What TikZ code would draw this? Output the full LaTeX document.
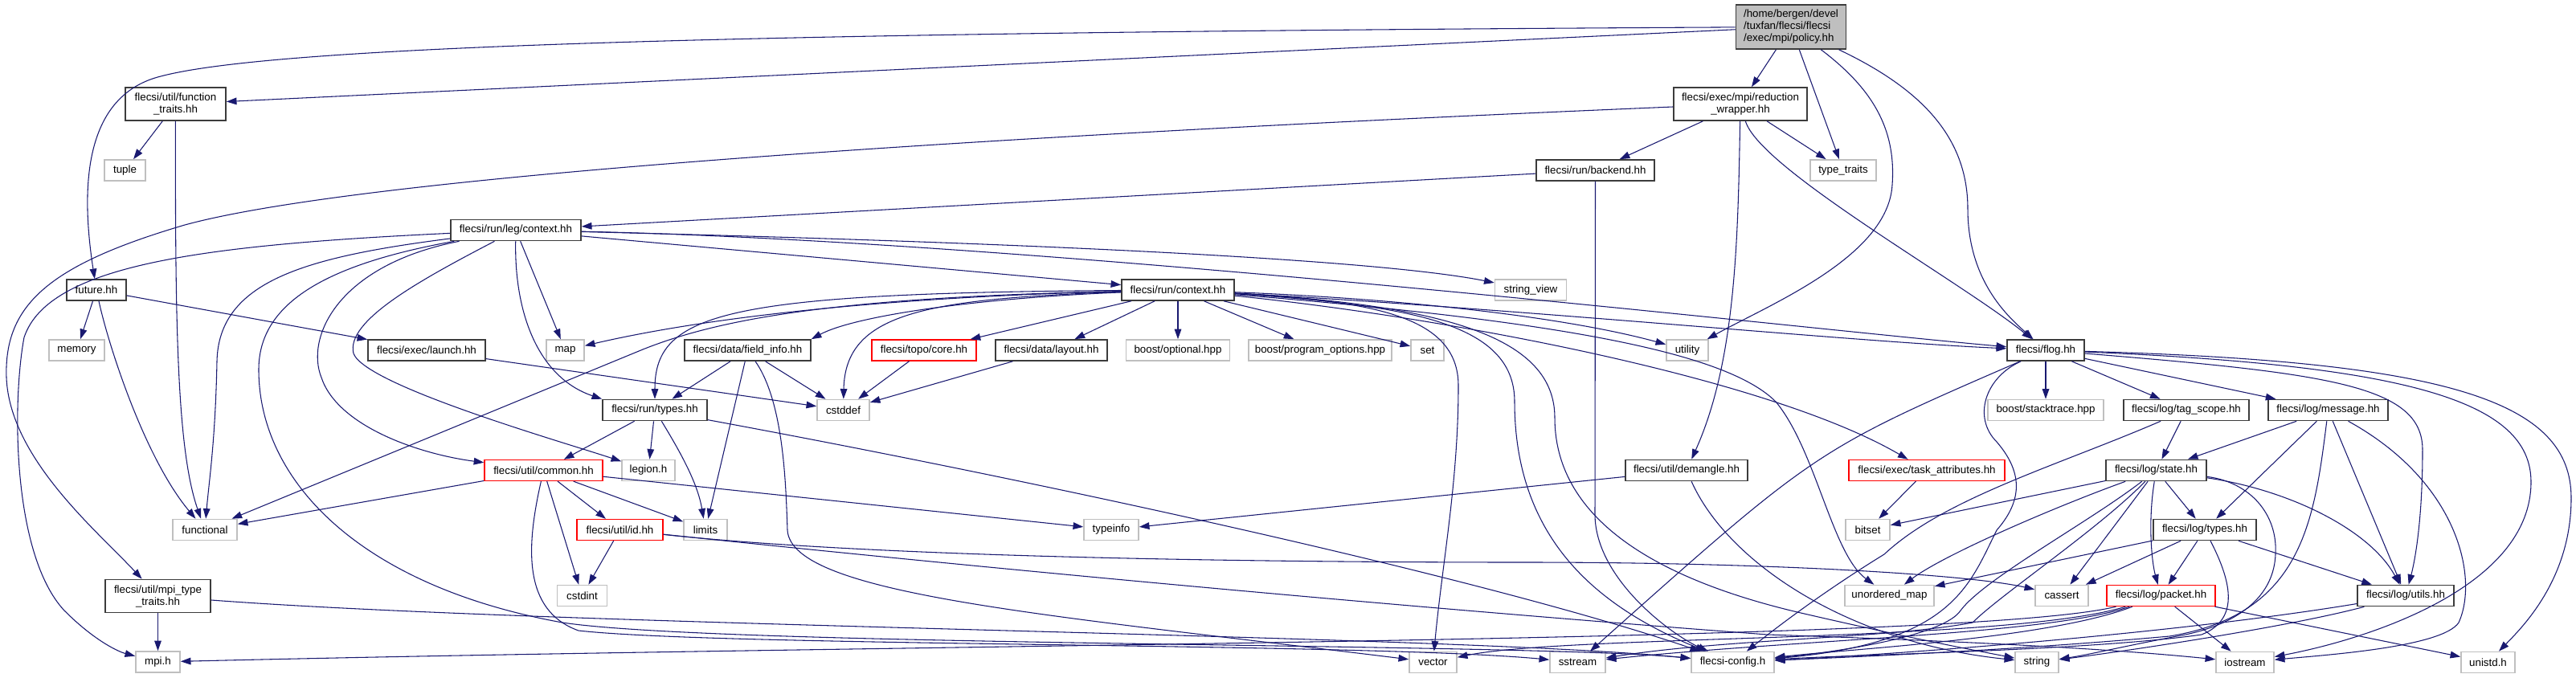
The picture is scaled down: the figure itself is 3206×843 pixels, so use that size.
\documentclass[tikz,border=0pt]{standalone}
\usepackage{fontspec}
\setmainfont{Liberation Sans}
\usetikzlibrary{arrows.meta}
\definecolor{edgec}{HTML}{191970}
\definecolor{extb}{HTML}{BFBFBF}
\definecolor{docb}{HTML}{3C3C3C}
\definecolor{polfill}{HTML}{BFBFBF}
\begin{document}
\begin{tikzpicture}[x=0.75pt,y=-0.75pt,
  nd/.style={inner sep=0pt, minimum height=19.5pt, font=\fontsize{10pt}{11.25pt}\selectfont, text=black, fill=white},
  wd/.style={minimum width=#1*0.75pt},
  ht/.style={minimum height=#1*0.75pt},
  doc/.style={nd, draw=docb, line width=1.2pt},
  ext/.style={nd, draw=extb, line width=1.2pt},
  trunc/.style={nd, draw=red, line width=1pt},
  ed/.style={draw=edgec, line width=0.8pt, -{Triangle[length=9.5pt,width=6.5pt]}}
]
\useasboundingbox (0,0) rectangle (3206,843);
% ---------------- nodes ----------------
\node[doc, wd=137, ht=55, fill=polfill, align=left] (P) at (2229,33.5) {/home/bergen/devel\\/tuxfan/flecsi/flecsi\\/exec/mpi/policy.hh};
\node[doc, wd=125, ht=41, align=center] (FT) at (218.5,129.5) {flecsi/util/function\\\_traits.hh};
\node[doc, wd=166, ht=41, align=center] (RW) at (2166,129.5) {flecsi/exec/mpi/reduction\\\_wrapper.hh};
\node[ext, wd=51] (tuple) at (155.5,212) {tuple};
\node[doc, wd=147] (BE) at (1985.5,212) {flecsi/run/backend.hh};
\node[ext, wd=82] (TT) at (2294,212) {type\_traits};
\node[doc, wd=162] (LC) at (642,286.5) {flecsi/run/leg/context.hh};
\node[doc, wd=74] (FU) at (120,361) {future.hh};
\node[doc, wd=140] (RC) at (1466,361) {flecsi/run/context.hh};
\node[ext, wd=89] (SV) at (1905,361) {string\_view};
\node[ext, wd=69] (memory) at (95.5,436) {memory};
\node[doc, wd=146] (launch) at (531,436) {flecsi/exec/launch.hh};
\node[ext, wd=47] (map) at (703.5,436) {map};
\node[doc, wd=157] (finfo) at (930.5,436) {flecsi/data/field\_info.hh};
\node[trunc, wd=130] (topo) at (1150,436) {flecsi/topo/core.hh};
\node[doc, wd=139] (layout) at (1308.5,436) {flecsi/data/layout.hh};
\node[ext, wd=129] (opt) at (1466,436) {boost/optional.hpp};
\node[ext, wd=178] (popt) at (1643,436) {boost/program\_options.hpp};
\node[ext, wd=41] (set) at (1776.5,436) {set};
\node[ext, wd=52] (utility) at (2100,436) {utility};
\node[doc, wd=96] (flog) at (2546,436) {flecsi/flog.hh};
\node[doc, wd=130] (rtypes) at (815,510.5) {flecsi/run/types.hh};
\node[ext, wd=65] (cstddef) at (1049.5,510.5) {cstddef};
\node[ext, wd=144] (stack) at (2546,510.5) {boost/stacktrace.hpp};
\node[doc, wd=156] (tag) at (2721,510.5) {flecsi/log/tag\_scope.hh};
\node[doc, wd=149] (msg) at (2897.5,510.5) {flecsi/log/message.hh};
\node[trunc, wd=147] (common) at (676.5,585.5) {flecsi/util/common.hh};
\node[ext, wd=66] (legion) at (807,585.5) {legion.h};
\node[doc, wd=152] (demangle) at (2099,585.5) {flecsi/util/demangle.hh};
\node[trunc, wd=194] (task) at (2398,585.5) {flecsi/exec/task\_attributes.hh};
\node[doc, wd=125] (state) at (2683.5,585.5) {flecsi/log/state.hh};
\node[ext, wd=80] (functional) at (255,659.5) {functional};
\node[trunc, wd=107] (id) at (771.5,659.5) {flecsi/util/id.hh};
\node[ext, wd=54] (limits) at (878,659.5) {limits};
\node[ext, wd=68] (typeinfo) at (1383,659.5) {typeinfo};
\node[ext, wd=55] (bitset) at (2324.5,659.5) {bitset};
\node[doc, wd=128] (ltypes) at (2744,659.5) {flecsi/log/types.hh};
\node[doc, wd=131, ht=41, align=center] (MTT) at (196.5,742) {flecsi/util/mpi\_type\\\_traits.hh};
\node[ext, wd=62] (cstdint) at (724.5,741.5) {cstdint};
\node[ext, wd=111] (umap) at (2351.5,741.5) {unordered\_map};
\node[ext, wd=66] (cassert) at (2566,741.5) {cassert};
\node[trunc, wd=135] (packet) at (2689.5,741.5) {flecsi/log/packet.hh};
\node[doc, wd=120] (utils) at (2994,741.5) {flecsi/log/utils.hh};
\node[ext, wd=55] (mpih) at (196.5,824) {mpi.h};
\node[ext, wd=59] (vector) at (1783.5,824.5) {vector};
\node[ext, wd=69] (sstream) at (1963.5,824.5) {sstream};
\node[ext, wd=103] (fconfig) at (2156.5,824.5) {flecsi-config.h};
\node[ext, wd=54] (string) at (2535,824.5) {string};
\node[ext, wd=72] (iostream) at (2794,824.5) {iostream};
\node[ext, wd=67] (unistd) at (3096.5,824.5) {unistd.h};
% ---------------- edges ----------------
% policy
\draw[ed] (P) -- (FT);
\draw[ed] (P) .. controls (1000,40) and (350,55) .. (200,95) .. controls (120,115) and (95,200) .. (FU);
\draw[ed] (P) -- (RW);
\draw[ed] (P) -- (TT);
\draw[ed] (P) .. controls (2330,110) and (2360,160) .. (2355,230) .. controls (2350,320) and (2200,380) .. (utility);
\draw[ed] (P) .. controls (2390,110) and (2449,170) .. (2449,260) .. controls (2449,350) and (2500,395) .. (flog);
% reduction wrapper
\draw[ed] (RW) .. controls (1200,170) and (450,220) .. (230,280) .. controls (60,330) and (5,380) .. (8,470) .. controls (12,570) and (120,660) .. (MTT);
\draw[ed] (RW) -- (BE);
\draw[ed] (RW) -- (TT);
\draw[ed] (RW) .. controls (2190,210) and (2440,350) .. (flog);
\draw[ed] (RW) .. controls (2163,300) and (2160,450) .. (demangle);
% function traits
\draw[ed] (FT) -- (tuple);
\draw[ed] (FT) .. controls (218,400) and (220,560) .. (functional);
% backend
\draw[ed] (BE) -- (LC);
\draw[ed] (BE) -- (1985,640) .. controls (1985,720) and (2080,790) .. (fconfig);
% leg context
\draw[ed] (LC) -- (RC);
\draw[ed] (LC) .. controls (1200,300) and (1700,320) .. (SV);
\draw[ed] (LC) .. controls (1300,300) and (2250,410) .. (flog);
\draw[ed] (LC) -- (map);
\draw[ed] (LC) .. controls (640,390) and (670,470) .. (rtypes.north west);
\draw[ed] (LC) .. controls (380,320) and (272,350) .. (270,450) .. controls (268,550) and (260,600) .. (functional);
\draw[ed] (LC) .. controls (250,305) and (60,330) .. (30,420) .. controls (15,500) and (15,690) .. (80,760) .. controls (120,800) and (150,812) .. (mpih);
\draw[ed] (LC) .. controls (420,330) and (380,420) .. (400,470) .. controls (420,530) and (520,565) .. (common);
\draw[ed] (LC) .. controls (520,350) and (430,400) .. (440,440) .. controls (455,480) and (700,550) .. (legion);
\draw[ed] (LC) .. controls (400,330) and (322,380) .. (322,460) .. controls (322,600) and (450,730) .. (700,775) .. controls (900,805) and (1900,800) .. (fconfig);
% future
\draw[ed] (FU) -- (memory);
\draw[ed] (FU) .. controls (135,430) and (180,570) .. (functional);
\draw[ed] (FU) -- (launch);
\draw[ed] (launch) -- (cstddef);
% run context
\draw[ed] (RC) .. controls (1050,370) and (900,395) .. (800,435) -- (functional);
\draw[ed] (RC) .. controls (1100,370) and (880,395) .. (map);
\draw[ed] (RC) .. controls (900,365) and (815,390) .. (rtypes);
\draw[ed] (RC) .. controls (1200,372) and (1060,395) .. (finfo.north east);
\draw[ed] (RC) .. controls (1150,372) and (1052,390) .. (cstddef);
\draw[ed] (RC) -- (topo);
\draw[ed] (RC) -- (layout);
\draw[ed] (RC) -- (opt);
\draw[ed] (RC) -- (popt);
\draw[ed] (RC) -- (set);
\draw[ed] (RC) .. controls (1750,372) and (1950,395) .. (utility);
\draw[ed] (RC) .. controls (1900,385) and (2300,425) .. (flog);
\draw[ed] (RC) .. controls (1800,395) and (2200,470) .. (task);
\draw[ed] (RC) .. controls (1700,375) and (1815,390) .. (1815,480) .. controls (1815,600) and (1795,700) .. (vector);
\draw[ed] (RC) .. controls (1750,380) and (1885,400) .. (1885,500) .. controls (1885,680) and (2000,760) .. (fconfig);
\draw[ed] (RC) .. controls (1800,380) and (1935,420) .. (1935,520) .. controls (1935,640) and (2050,720) .. (2250,765) .. controls (2380,795) and (2460,810) .. (string);
\draw[ed] (RC) .. controls (1950,400) and (2150,440) .. (2210,500) .. controls (2260,560) and (2280,690) .. (umap);
% field info, topo, layout
\draw[ed] (finfo) -- (rtypes);
\draw[ed] (finfo) -- (limits);
\draw[ed] (finfo) -- (cstddef);
\draw[ed] (finfo) .. controls (975,500) and (978,600) .. (980,660) .. controls (985,740) and (1300,765) .. (vector);
\draw[ed] (topo) -- (cstddef);
\draw[ed] (layout) -- (cstddef);
% run types
\draw[ed] (rtypes) -- (common);
\draw[ed] (rtypes) -- (legion);
\draw[ed] (rtypes) .. controls (845,560) and (868,600) .. (limits);
\draw[ed] (rtypes) .. controls (1300,600) and (1850,720) .. (fconfig);
% common
\draw[ed] (common) -- (functional);
\draw[ed] (common) -- (id);
\draw[ed] (common) -- (limits);
\draw[ed] (common) -- (cstdint);
\draw[ed] (common) -- (typeinfo);
\draw[ed] (common) .. controls (655,680) and (650,760) .. (720,785) .. controls (900,805) and (1700,800) .. (sstream);
% id
\draw[ed] (id) -- (cstdint);
\draw[ed] (id) .. controls (1100,695) and (1600,700) .. (1900,700) .. controls (2200,700) and (2450,715) .. (cassert);
\draw[ed] (id) .. controls (1300,715) and (1800,760) .. (2200,790) .. controls (2500,800) and (2650,810) .. (iostream);
% mpi type traits
\draw[ed] (MTT) -- (mpih);
\draw[ed] (MTT) .. controls (700,780) and (1800,790) .. (fconfig);
% demangle, task attributes
\draw[ed] (demangle) -- (typeinfo);
\draw[ed] (demangle) .. controls (2150,700) and (2300,800) .. (string);
\draw[ed] (task) -- (bitset);
% flog
\draw[ed] (flog) -- (stack);
\draw[ed] (flog) -- (tag);
\draw[ed] (flog) -- (msg);
\draw[ed] (flog) .. controls (2900,465) and (3015,480) .. (3015,560) .. controls (3015,650) and (3005,700) .. (utils);
\draw[ed] (flog) .. controls (3000,455) and (3150,500) .. (3150,600) .. controls (3150,730) and (2950,795) .. (iostream);
\draw[ed] (flog) .. controls (3050,450) and (3200,500) .. (3200,620) .. controls (3200,720) and (3140,780) .. (unistd);
\draw[ed] (flog) .. controls (2260,560) .. (sstream);
\draw[ed] (flog) .. controls (2470,470) and (2455,520) .. (2485,550) .. controls (2515,585) and (2520,620) .. (2485,660) .. controls (2450,730) and (2430,800) .. (fconfig);
% tag scope
\draw[ed] (tag) -- (state);
\draw[ed] (tag) .. controls (2560,580) and (2420,620) .. (2345,690) .. controls (2280,730) and (2225,770) .. (fconfig);
% message
\draw[ed] (msg) -- (state);
\draw[ed] (msg) -- (ltypes);
\draw[ed] (msg) -- (utils);
\draw[ed] (msg) .. controls (3060,600) and (3085,720) .. (3060,775) .. controls (3040,805) and (2900,815) .. (iostream);
\draw[ed] (msg) .. controls (2880,650) and (2865,765) .. (2700,792) .. controls (2500,810) and (2300,818) .. (fconfig);
% state
\draw[ed] (state) -- (bitset);
\draw[ed] (state) .. controls (2560,630) and (2420,690) .. (umap);
\draw[ed] (state) -- (cassert);
\draw[ed] (state) .. controls (2673,650) and (2678,700) .. (packet);
\draw[ed] (state) -- (ltypes);
\draw[ed] (state) .. controls (2850,610) and (2950,660) .. (utils);
\draw[ed] (state) .. controls (2800,600) and (2835,640) .. (2832,690) .. controls (2830,740) and (2790,775) .. (2720,790) .. controls (2640,805) and (2600,815) .. (string);
\draw[ed] (state) .. controls (2600,650) and (2470,720) .. (2440,760) .. controls (2420,790) and (2300,810) .. (fconfig);
\draw[ed] (state) .. controls (2610,660) and (2490,740) .. (2455,775) .. controls (2350,795) and (2150,795) .. (sstream);
% log types
\draw[ed] (ltypes) -- (umap);
\draw[ed] (ltypes) -- (cassert);
\draw[ed] (ltypes) -- (packet);
\draw[ed] (ltypes) -- (utils);
\draw[ed] (ltypes) .. controls (2775,720) and (2790,770) .. (2740,790) .. controls (2600,810) and (2300,815) .. (fconfig);
% packet
\draw[ed] (packet) -- (iostream);
\draw[ed] (packet) -- (unistd);
\draw[ed] (packet) .. controls (2550,790) and (2250,795) .. (sstream);
\draw[ed] (packet) .. controls (2550,795) and (2300,808) .. (fconfig);
\draw[ed] (packet) .. controls (2500,800) and (1950,790) .. (vector);
\draw[ed] (packet) .. controls (2450,800) and (1200,800) .. (mpih);
% utils
\draw[ed] (utils) .. controls (2700,790) and (2350,815) .. (fconfig);
\draw[ed] (utils) .. controls (2850,780) and (2650,810) .. (string);
\end{tikzpicture}
\end{document}
